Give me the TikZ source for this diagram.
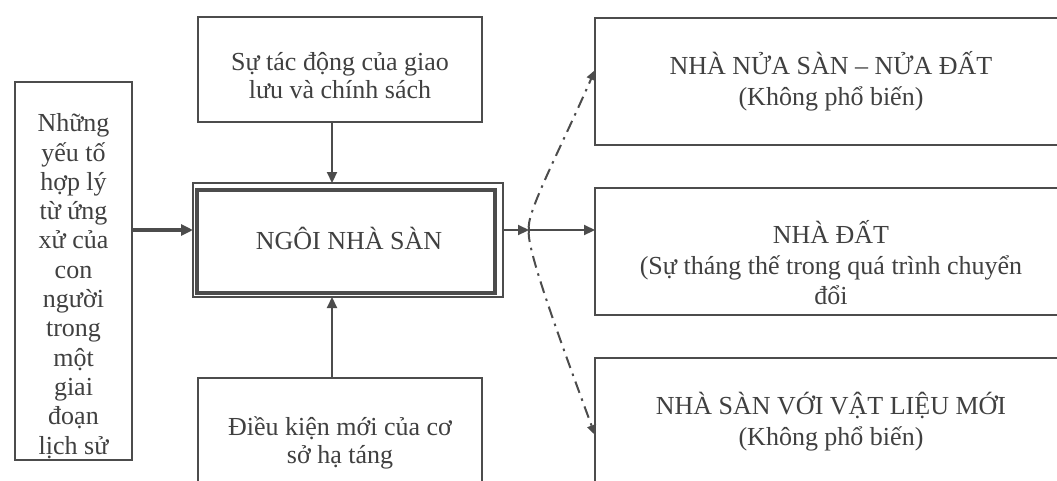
\documentclass[tikz,border=0pt]{standalone}
\usepackage{fontspec}
\setmainfont{Liberation Serif}
\usetikzlibrary{arrows.meta,calc}
\definecolor{ln}{HTML}{4C4C4C}
\definecolor{tx}{HTML}{404040}
\begin{document}
\begin{tikzpicture}[x=1pt,y=-1pt,
  box/.style={draw=ln, line width=2.8pt, text=tx, align=center, inner sep=0pt, outer sep=0pt},
  lab/.style={text=tx, align=center, inner sep=0pt},
  fA/.style={font=\fontsize{26}{28}\selectfont},
  fL/.style={font=\fontsize{26}{29.3}\selectfont},
  fR/.style={font=\fontsize{26}{30.5}\selectfont},
  arr/.style={draw=ln, line width=2.2pt, -{Triangle[length=11pt,width=10pt]}},
  thickarr/.style={draw=ln, line width=3.6pt, -{Triangle[length=12pt,width=11pt]}},
  dd/.style={draw=ln, line width=2pt, dash pattern=on 12pt off 6pt on 2.5pt off 6pt, -{Triangle[length=10pt,width=9pt]}}]
\clip (0,0) rectangle (1057,480);
\fill[white] (0,0) rectangle (1057,480);
% helper coordinates
\coordinate (ax) at (332,0);
\coordinate (ay) at (0,230);
\coordinate (j) at (529,230);
\coordinate (ty) at (0,70);
\coordinate (by) at (0,435);
% boxes
\node[box, minimum width=117pt, minimum height=378pt] (lb) at (73.5,271) {};
\node[lab, fL] (lbt) at (73.5,286) {Những\\yếu tố\\hợp lý\\từ ứng\\xử của\\con\\người\\trong\\một\\giai\\đoạn\\lịch sử};
\node[box, minimum width=284pt, minimum height=105pt] (tb) at (340,69.5) {};
\node[lab, fA] (tbt) at (340,76) {Sự tác động của giao\\lưu và chính sách};
\node[box, fA, minimum width=284pt, minimum height=130pt] (bb) at (340,443) {Điều kiện mới của cơ\\sở hạ táng};
\node[box, line width=1.4pt, minimum width=310pt, minimum height=114pt] (cbo) at (348,240) {};
\node[box, line width=4.5pt, minimum width=298pt, minimum height=103pt] (cb) at (346,241.5) {};
\node[lab, fA] (cbt) at (349,238) {NGÔI NHÀ SÀN};
\node[box, fR, minimum width=472pt, minimum height=127pt] (r1) at (831,81.5) {NHÀ NỬA SÀN – NỬA ĐẤT\\(Không phổ biến)};
\node[box, minimum width=472pt, minimum height=127pt] (r2) at (831,251.5) {};
\node[lab, fR] (r2t) at (831,263) {NHÀ ĐẤT\\(Sự tháng thế trong quá trình chuyển\\đổi};
\node[box, fR, minimum width=472pt, minimum height=127pt] (r3) at (831,421.5) {NHÀ SÀN VỚI VẬT LIỆU MỚI\\(Không phổ biến)};
% connectors
\draw[arr] (tb.south -| ax) -- (cbo.north -| ax);
\draw[arr] (bb.north -| ax) -- (cbo.south -| ax);
\draw[thickarr] (lb.east |- ay) -- (cbo.west |- ay);
\draw[arr] (cbo.east |- ay) -- (j);
\draw[arr] (j) -- (r2.west |- ay);
\draw[dd] (j) .. controls (525,215) and (560,150) .. (r1.west |- ty);
\draw[dd] (j) .. controls (525,245) and (560,340) .. (r3.west |- by);
\end{tikzpicture}
\end{document}
